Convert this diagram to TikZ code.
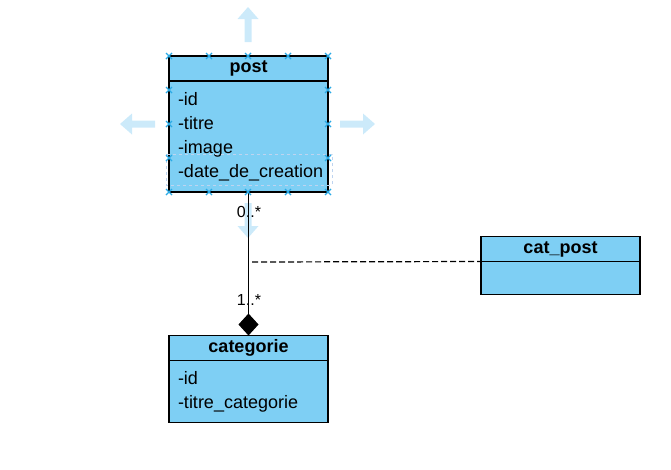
\documentclass[tikz,border=0pt]{standalone}
\usepackage{fontspec}
\setmainfont{Liberation Sans}
\usetikzlibrary{positioning,arrows.meta}
\definecolor{umlblue}{RGB}{126,207,244}
\definecolor{hintblue}{RGB}{204,234,250}
\definecolor{handleblue}{RGB}{41,170,230}
\definecolor{selblue}{RGB}{190,212,240}

\begin{document}
\begin{tikzpicture}[x=1pt,y=-1pt,node distance=0pt,
				head/.style={draw,fill=umlblue,line width=1.4pt,minimum width=159pt,minimum height=25pt,outer sep=0pt,inner sep=0pt,font=\fontsize{18}{20}\selectfont\bfseries},
				body/.style={draw,fill=umlblue,line width=1.4pt,text width=141pt,inner xsep=9pt,inner ysep=0pt,outer sep=0pt,align=left,font=\fontsize{18}{24}\selectfont},
				mult/.style={font=\fontsize{16}{18}\selectfont,inner sep=0pt},
				hint/.style={fill=hintblue},
				handle/.style={draw=handleblue,line width=1.3pt}]
				\useasboundingbox (0,0) rectangle (671,469);
				
				% move hints round the selected class
				\foreach \tx/\ty/\rot in {248/7/0,248/238/180,120/124/90,375/124/-90}
					\fill[hint,shift={(\tx,\ty)},rotate=\rot] (0,0) -- (10.5,12) -- (3.5,12) -- (3.5,35) -- (-3.5,35) -- (-3.5,12) -- (-10.5,12) -- cycle;
				
				\node[head] (post)        at (248.5,68.5)    {post};
				\node[body,minimum height=111pt] (postattr) [below=of post] {-id\\-titre\\-image\\\mbox{-date\_de\_creation}};
				\node[head] (categorie)   at (248.5,348)     {categorie};
				\node[body,minimum height=62pt] (catattr) [below=of categorie] {-id\\-titre\_categorie};
				\node[head] (catpost)     at (560.5,249)     {cat\_post};
				\node[body,minimum height=33pt] (catpostattr) [below=of catpost] {};
				
				\node[mult] (postmult) at (249,212) {0..*};
				\node[mult] (catmult)  at (249,300) {1..*};
				\coordinate (assoc) at (252,262);
				
				\draw[line width=1.2pt,-{Diamond[length=22pt,width=20pt,fill=black]}] (postattr.south) -- (categorie.north);
				\draw[line width=1.2pt,dash pattern=on 6pt off 3pt] (assoc) -- (catpostattr.north west);
				
				% selection marks
				\draw[selblue,line width=1pt,dashed] (166,154) rectangle (332,185);
				\foreach \hx in {169,209,248,288,328}
					\foreach \hy in {56,192}
						\draw[handle,shift={(\hx,\hy)}] (-3,-3) -- (3,3) (-3,3) -- (3,-3);
				\foreach \hx in {169,328}
					\foreach \hy in {90,124,158}
						\draw[handle,shift={(\hx,\hy)}] (-3,-3) -- (3,3) (-3,3) -- (3,-3);
			\end{tikzpicture}
\end{document}
